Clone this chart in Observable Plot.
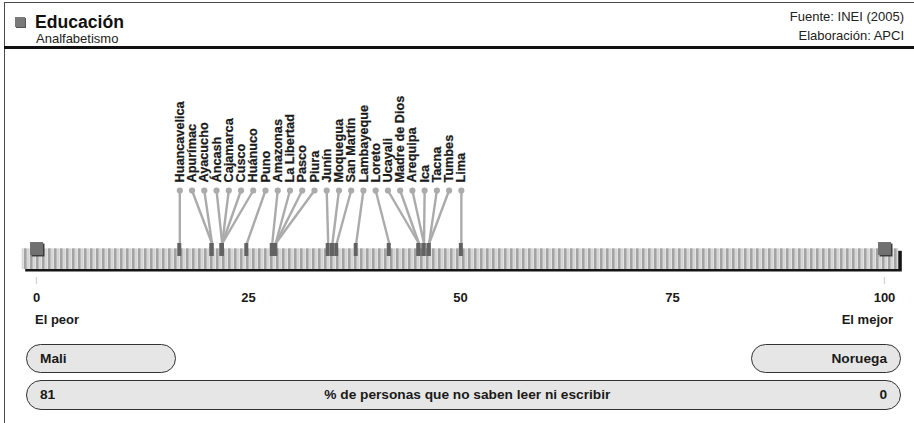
<!DOCTYPE html>
<html>
<head>
<meta charset="utf-8">
<script src="https://cdn.jsdelivr.net/npm/d3@7"></script>
<script src="https://cdn.jsdelivr.net/npm/@observablehq/plot@0.6"></script>
<style>
  html, body { margin: 0; padding: 0; background: #fff; }
  body { font-family: "Liberation Sans", Arial, Helvetica, sans-serif; color: #1a1a1a; }
  #wrap { position: relative; width: 914px; height: 423px; overflow: hidden; }
  .abs { position: absolute; white-space: nowrap; }
  #frameTop { left: 4px; top: 1.5px; right: 0; height: 1.5px; background: #4a4a4a; }
  #frameLeft { left: 4px; top: 1.5px; bottom: 0; width: 1.4px; background: #4a4a4a; }
  #sep { left: 4px; top: 46px; right: 0; height: 3px; background: #111; }
  #icon { left: 15px; top: 17px; width: 10px; height: 10px; background: #7a7a7a; box-shadow: 1px 1px 0 #555; }
  #title { left: 35px; top: 13.6px; font-size: 17.6px; line-height: 17.6px; font-weight: bold; color: #111; }
  #subtitle { left: 36px; top: 32px; font-size: 13px; line-height: 13px; color: #222; }
  #source { right: 10px; top: 9.5px; font-size: 13px; line-height: 13px; color: #222; }
  #credit { right: 10px; top: 29px; font-size: 13px; line-height: 13px; color: #222; }
  #chart { left: 0; top: 49px; }
  .pill { position: absolute; box-sizing: border-box; background: #e6e6e6; border: 1px solid #333;
          border-radius: 15px; font-size: 13.7px; font-weight: bold; color: #1a1a1a;
          display: flex; align-items: center; padding: 0 13px; }
</style>
</head>
<body>
<div id="wrap">
  <div class="abs" id="frameTop"></div>
  <div class="abs" id="frameLeft"></div>
  <div class="abs" id="sep"></div>
  <div class="abs" id="icon"></div>
  <div class="abs" id="title"></div>
  <div class="abs" id="subtitle"></div>
  <div class="abs" id="source"></div>
  <div class="abs" id="credit"></div>
  <div class="abs" id="chart"></div>
</div>
<script>
// ---------- data ----------
const titleText = "Educación";
const subtitleText = "Analfabetismo";
const sourceText = "Fuente: INEI (2005)";
const creditText = "Elaboración: APCI";

const regions = ["Huancavelica", "Apurímac", "Ayacucho", "Áncash", "Cajamarca", "Cusco",
  "Huánuco", "Puno", "Amazonas", "La Libertad", "Pasco", "Piura", "Junín", "Moquegua",
  "San Martín", "Lambayeque", "Loreto", "Ucayali", "Madre de Dios", "Arequipa", "Ica",
  "Tacna", "Tumbes", "Lima"];
const indexValues = [16.9, 20.7, 20.7, 21.9, 21.9, 21.9,
  21.9, 24.8, 27.8, 28.2, 28.2, 28.2, 34.4, 34.9,
  35.4, 37.7, 41.6, 45.1, 45.1, 45.7, 45.7,
  46.3, 46.3, 50.1];

const tickValues = [0, 25, 50, 75, 100];
const endValues = [0, 100];
const endLabels = ["El peor", "El mejor"];
const refCountries = ["Mali", "Noruega"];
const refRates = [81, 0];
const measureLabel = "% de personas que no saben leer ni escribir";

// ---------- header ----------
document.getElementById("title").textContent = titleText;
document.getElementById("subtitle").textContent = subtitleText;
document.getElementById("source").textContent = sourceText;
document.getElementById("credit").textContent = creditText;

// ---------- chart ----------
const n = regions.length;
const first = indexValues[0], last = indexValues[n - 1];
const rows = regions.map((name, i) => ({
  name,
  value: indexValues[i],
  lx: first + i * (last - first) / (n - 1)   // evenly spread label slots
}));
const ends = endValues.map((v, i) => ({ v, label: endLabels[i] }));

const font = "Liberation Sans, Arial, Helvetica, sans-serif";

const svg = Plot.plot({
  width: 914,
  height: 290,
  marginTop: 141,
  marginBottom: 96,
  marginLeft: 36,
  marginRight: 30,
  x: { domain: [0, 100], axis: null },
  y: { domain: [0, 1], axis: null },
  style: { fontFamily: font, background: "transparent", overflow: "visible" },
  marks: [
    // bar drop shadow
    Plot.rect([0], { x1: 0, x2: 100, y1: 0, y2: 0, insetLeft: -14.3, insetRight: -14.3,
      insetTop: 5.3, insetBottom: -26, dx: 3.5, dy: 2.5, fill: "#151515" }),
    // striped bar
    Plot.rect([0], { x1: 0, x2: 100, y1: 0, y2: 0, insetLeft: -14.3, insetRight: -14.3,
      insetTop: 5.3, insetBottom: -26, fill: "url(#stripes)" }),
    // leader lines
    Plot.link(rows, { x1: "lx", y1: 1, x2: "value", y2: 0, stroke: "#ababab", strokeWidth: 2.4 }),
    // markers on the bar
    Plot.rect(rows, { x1: "value", x2: "value", y1: 0, y2: 0, insetLeft: -2, insetRight: -2,
      insetTop: 0, insetBottom: -13, fill: "#626262" }),
    // label dots
    Plot.dot(rows, { x: "lx", y: 1, r: 3.1, fill: "#ababab" }),
    // region labels
    Plot.text(rows, { x: "lx", y: 1, text: "name", rotate: -90, textAnchor: "start",
      lineAnchor: "middle", dy: -8, fontSize: 12.7, fontWeight: "bold", fill: "#1a1a1a",
      stroke: "#1a1a1a", strokeWidth: 0.25 }),
    // end squares (shadow + square)
    Plot.dot(endValues, { x: d => d, y: 0, symbol: "square", r: 7.3, dx: 1.5, dy: 6.5, fill: "#3c3c3c" }),
    Plot.dot(endValues, { x: d => d, y: 0, symbol: "square", r: 7.3, dy: 5, fill: "#707070" }),
    // axis ticks
    Plot.ruleX(endValues, { x: d => d, y1: 0, y2: 0, insetTop: 34, insetBottom: -41, stroke: "#cfcfcf", strokeWidth: 1.2 }),
    // axis labels
    Plot.text(tickValues, { x: d => d, y: 0, text: d => String(d), dy: 58, lineAnchor: "bottom",
      fontSize: 13, fontWeight: "bold", fill: "#1a1a1a" }),
    // end captions
    Plot.text(ends.slice(0, 1), { x: "v", y: 0, text: "label", dy: 80, dx: -1.5, textAnchor: "start",
      lineAnchor: "bottom", fontSize: 13, fontWeight: "bold", fill: "#1a1a1a" }),
    Plot.text(ends.slice(1), { x: "v", y: 0, text: "label", dy: 80, dx: 8.5, textAnchor: "end",
      lineAnchor: "bottom", fontSize: 13, fontWeight: "bold", fill: "#1a1a1a" })
  ]
});

// stripe pattern for the bar
const ns = "http://www.w3.org/2000/svg";
const defs = document.createElementNS(ns, "defs");
defs.innerHTML =
  '<pattern id="stripes" patternUnits="userSpaceOnUse" width="6" height="40">' +
  '<rect width="6" height="40" fill="#e2e2e2"/>' +
  '<rect x="0" width="2.6" height="40" fill="#a3a3a3"/>' +
  '<rect x="3.6" width="0.9" height="40" fill="#c8c8c8"/>' +
  '</pattern>';
svg.insertBefore(defs, svg.firstChild);
document.getElementById("chart").appendChild(svg);

// ---------- reference pills ----------
const wrap = document.getElementById("wrap");
function pill(left, top, width, height, justify) {
  const d = document.createElement("div");
  d.className = "pill";
  Object.assign(d.style, { left: left + "px", top: top + "px", width: width + "px",
    height: height + "px", justifyContent: justify });
  wrap.appendChild(d);
  return d;
}
pill(26, 344, 150, 28.5, "flex-start").textContent = refCountries[0];
pill(751, 344, 150, 28.5, "flex-end").textContent = refCountries[1];
const big = pill(26, 380, 875, 29.5, "space-between");
[String(refRates[0]), measureLabel, String(refRates[1])].forEach(t => {
  const s = document.createElement("span");
  s.textContent = t;
  big.appendChild(s);
});
</script>
</body>
</html>
